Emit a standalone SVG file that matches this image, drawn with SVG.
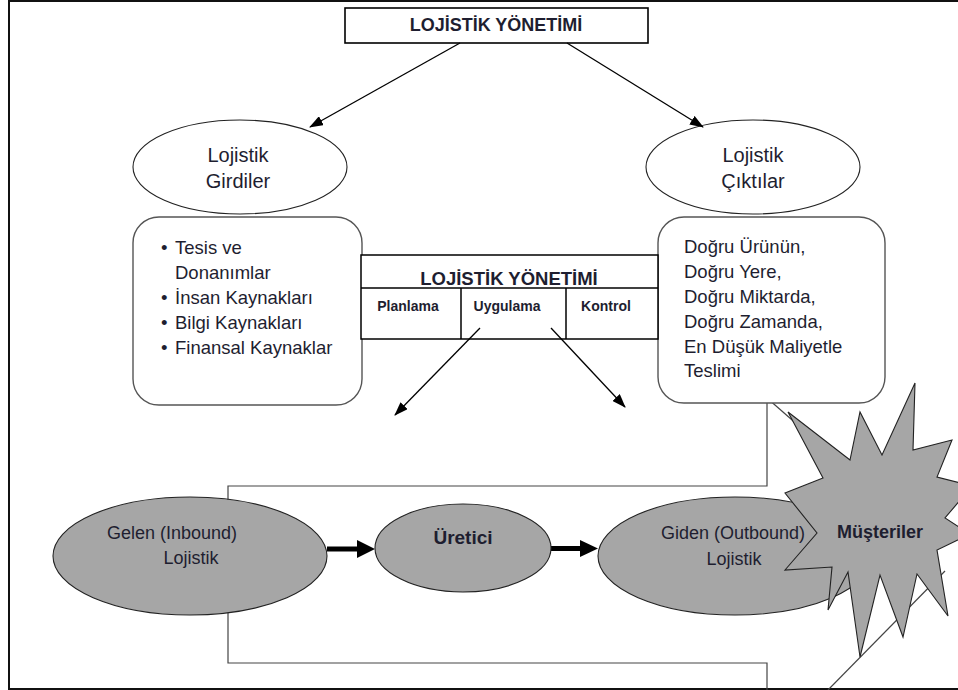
<svg xmlns="http://www.w3.org/2000/svg" width="958" height="690" viewBox="0 0 958 690">
<style>
.t{font-family:"Liberation Sans",Arial,sans-serif;fill:#1e1e30}
.b{font-weight:bold}
.thin{stroke:#000;stroke-width:1.3;fill:none}
.ell{fill:#fff;stroke:#222;stroke-width:1.1}
.gray{fill:#a6a6a6;stroke:#222;stroke-width:1.1}
.rr{fill:#fff;stroke:#555;stroke-width:1.4}
.call{fill:none;stroke:#444;stroke-width:1.2}
</style>
<defs>
<marker id="ah" markerUnits="userSpaceOnUse" markerWidth="14" markerHeight="10" refX="13" refY="5" orient="auto">
<path d="M0,0 L14,5 L0,10 z" fill="#000"/>
</marker>
</defs>
<rect x="0" y="0" width="958" height="690" fill="#fff"/>
<rect id="frame" x="9" y="1" width="970" height="688" fill="none" stroke="#111" stroke-width="2"/>

<g id="callout">
<path class="call" d="M767,398 L767,486 L228,486 L228,663 L767,663 L767,690"/>
<path class="call" d="M767,398 L840,462"/>
<path class="call" d="M828,690 L945,571"/>
</g>

<g id="top">
<rect x="345" y="8" width="303" height="35" fill="#fff" stroke="#000" stroke-width="1.6"/>
<text class="t b" x="496" y="31" font-size="18" text-anchor="middle">LOJİSTİK YÖNETİMİ</text>
</g>

<g id="girdiler">
<ellipse class="ell" cx="240" cy="167" rx="107" ry="47"/>
<text class="t" x="238" y="162" font-size="20" text-anchor="middle">Lojistik</text>
<text class="t" x="238" y="188" font-size="20" text-anchor="middle">Girdiler</text>
</g>

<g id="ciktilar">
<ellipse class="ell" cx="753" cy="167" rx="107" ry="47"/>
<text class="t" x="753" y="162" font-size="20" text-anchor="middle">Lojistik</text>
<text class="t" x="753" y="188" font-size="20" text-anchor="middle">Çıktılar</text>
</g>

<g id="girdiler-list">
<rect class="rr" x="133" y="217" width="229" height="188" rx="26"/>
<g class="t" font-size="18.5">
<text x="161" y="254">•</text><text x="175" y="254">Tesis ve</text>
<text x="175" y="279">Donanımlar</text>
<text x="161" y="304">•</text><text x="175" y="304">İnsan Kaynakları</text>
<text x="161" y="329">•</text><text x="175" y="329">Bilgi Kaynakları</text>
<text x="161" y="354">•</text><text x="175" y="354">Finansal Kaynaklar</text>
</g>
</g>

<g id="ciktilar-list">
<rect class="rr" x="658" y="217" width="227" height="186" rx="26"/>
<g class="t" font-size="18.5">
<text x="684" y="253">Doğru Ürünün,</text>
<text x="684" y="278">Doğru Yere,</text>
<text x="684" y="303">Doğru Miktarda,</text>
<text x="684" y="328">Doğru Zamanda,</text>
<text x="684" y="353">En Düşük Maliyetle</text>
<text x="684" y="377">Teslimi</text>
</g>
</g>

<g id="yonetim-table">
<rect x="361" y="255" width="297" height="84" fill="#fff" stroke="#000" stroke-width="1.5"/>
<line x1="361" y1="288" x2="658" y2="288" stroke="#000" stroke-width="1.5"/>
<line x1="461" y1="288" x2="461" y2="339" stroke="#000" stroke-width="1.5"/>
<line x1="566" y1="288" x2="566" y2="339" stroke="#000" stroke-width="1.5"/>
<text class="t b" x="509" y="285" font-size="18.5" text-anchor="middle">LOJİSTİK YÖNETİMİ</text>
<text class="t b" x="408" y="311" font-size="14" text-anchor="middle">Planlama</text>
<text class="t b" x="507" y="311" font-size="14" text-anchor="middle">Uygulama</text>
<text class="t b" x="606" y="311" font-size="14" text-anchor="middle">Kontrol</text>
</g>

<g id="connectors">
<line class="thin" x1="460" y1="43" x2="310" y2="127" marker-end="url(#ah)"/>
<line class="thin" x1="567" y1="43" x2="703" y2="127" marker-end="url(#ah)"/>
<line class="thin" x1="480" y1="328" x2="395" y2="415" marker-end="url(#ah)"/>
<line class="thin" x1="551" y1="328" x2="625" y2="407" marker-end="url(#ah)"/>
<line x1="327" y1="549" x2="359" y2="549" stroke="#000" stroke-width="5"/>
<polygon points="357,540 375,549 357,558" fill="#000"/>
<line x1="551" y1="548.5" x2="582" y2="548.5" stroke="#000" stroke-width="5"/>
<polygon points="580,540 598,548.5 580,557" fill="#000"/>
</g>

<g id="gelen">
<ellipse class="gray" cx="190" cy="556" rx="137" ry="59"/>
<text class="t" x="172" y="539" font-size="18" text-anchor="middle">Gelen (Inbound)</text>
<text class="t" x="191" y="564" font-size="18" text-anchor="middle">Lojistik</text>
</g>

<g id="uretici">
<ellipse class="gray" cx="463" cy="548" rx="88" ry="44"/>
<text class="t b" x="463" y="544" font-size="19" text-anchor="middle">Üretici</text>
</g>

<g id="giden">
<ellipse class="gray" cx="735" cy="556" rx="137" ry="59"/>
<text class="t" x="733" y="539" font-size="18" text-anchor="middle">Giden (Outbound)</text>
<text class="t" x="734" y="565" font-size="18" text-anchor="middle">Lojistik</text>
</g>

<g id="musteriler">
<polygon class="gray" points="915,383 913,450 952,440 937,477 972,486 945,518 970,534 937,550 948,616 917,574 903,637 880,575 860,657 848,572 828,610 832,567 785,570 817,533 785,493 823,478 788,412 850,460 860,412 882,455"/>
<text class="t b" x="880" y="538" font-size="18" text-anchor="middle">Müşteriler</text>
</g>
</svg>
